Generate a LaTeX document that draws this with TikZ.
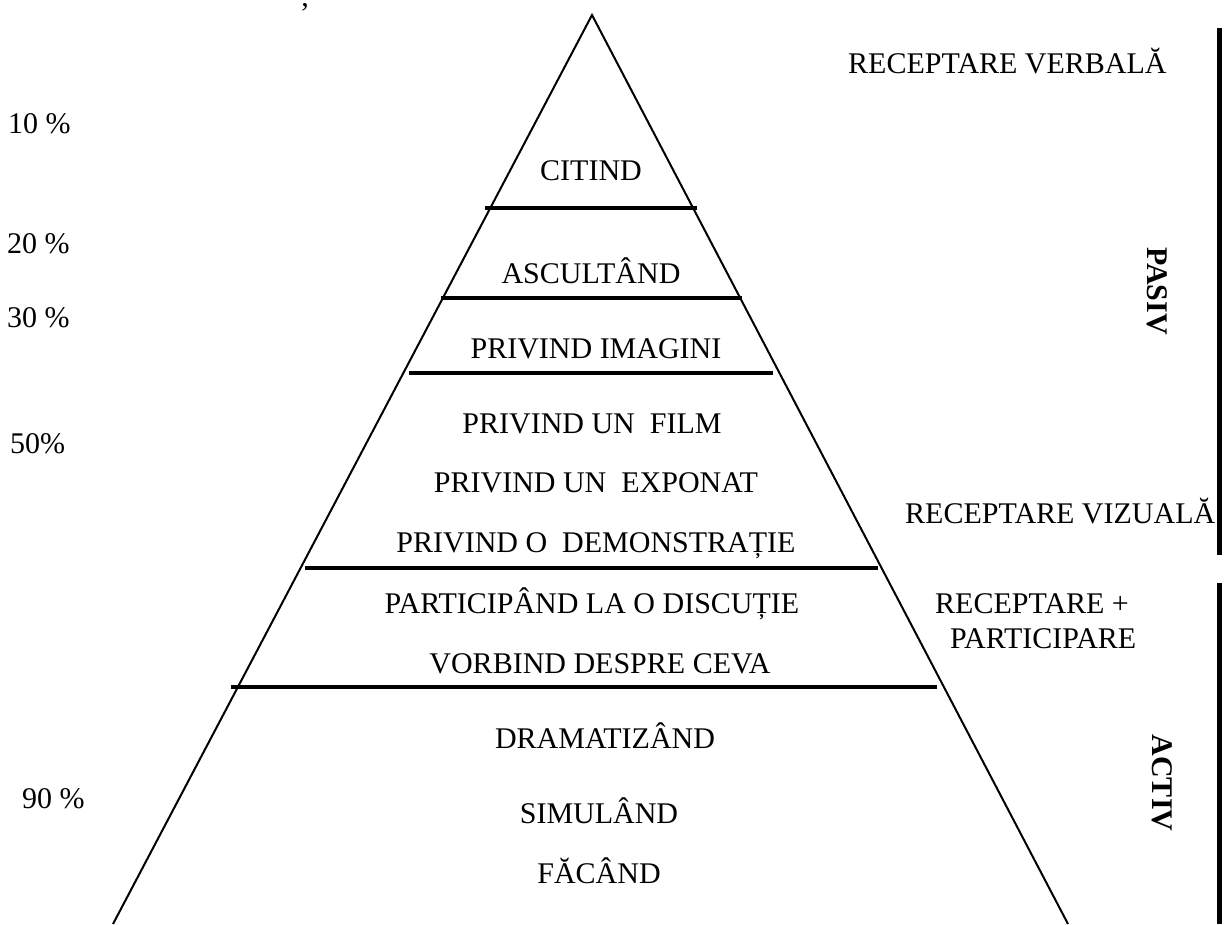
\documentclass[tikz,border=0pt]{standalone}
\usepackage{fontspec}
\setmainfont{Liberation Serif}
\begin{document}
\begin{tikzpicture}[x=1pt,y=-1pt,
  lbl/.style={inner sep=0pt,anchor=base,font=\fontsize{30}{36}\selectfont},
  lbll/.style={inner sep=0pt,anchor=base west,font=\fontsize{30}{36}\selectfont},
  side/.style={inner sep=0pt,anchor=center,rotate=-90,font=\fontsize{30}{36}\selectfont\bfseries},
  edge/.style={line width=2pt},
  divider/.style={line width=4.8pt},
  bar/.style={line width=5pt}]
\useasboundingbox (0,0) rectangle (1225,924);
% pyramid
\coordinate (apex) at (592,15);
\coordinate (bl) at (113,924);
\coordinate (br) at (1068,924);
\draw[edge] (bl) -- (apex) -- (br);
% dividers
\draw[divider] (485,208) -- (697,208);
\draw[divider] (441,298) -- (742,298);
\draw[divider] (409,373) -- (773,373);
\draw[divider] (305,568) -- (878,568);
\draw[divider] (231,687) -- (937,687);
% bars
\draw[bar] (1219,28) -- (1219,555);
\draw[bar] (1219,583) -- (1219,924);
% texts in pyramid
\node[lbl] (t1) at (591,180) {CITIND};
\node[lbl] (t2) at (591,283) {ASCULTÂND};
\node[lbl] (t3) at (596,358) {PRIVIND IMAGINI};
\node[lbl] (t4) at (592,433) {PRIVIND UN\ \ FILM};
\node[lbl] (t5) at (596,492) {PRIVIND UN\ \ EXPONAT};
\node[lbl] (t6) at (596,552) {PRIVIND O\ \ DEMONSTRAȚIE};
\node[lbl] (t7) at (592,613) {PARTICIPÂND LA O DISCUȚIE};
\node[lbl] (t8) at (600,673) {VORBIND DESPRE CEVA};
\node[lbl] (t9) at (605,748) {DRAMATIZÂND};
\node[lbl] (t10) at (599,823) {SIMULÂND};
\node[lbl] (t11) at (599,883) {FĂCÂND};
% percentages
\node[lbll] (p10) at (8,133) {10 \%};
\node[lbll] (p20) at (7,253) {20 \%};
\node[lbll] (p30) at (7,327) {30 \%};
\node[lbll] (p50) at (10,453) {50\%};
\node[lbll] (p90) at (22,808) {90 \%};
% right labels
\node[lbll] (rv) at (848,73) {RECEPTARE VERBALĂ};
\node[lbll] (rz) at (905,523) {RECEPTARE VIZUALĂ};
\node[lbll] (rp1) at (935,613) {RECEPTARE +};
\node[lbll] (rp2) at (950,648) {PARTICIPARE};
\node[side] (pasiv) at (1157,291) {PASIV};
\node[side] (activ) at (1162,783) {ACTIV};
% stray comma at top
\node[lbl] (cm) at (305,6) {,};
\end{tikzpicture}
\end{document}
